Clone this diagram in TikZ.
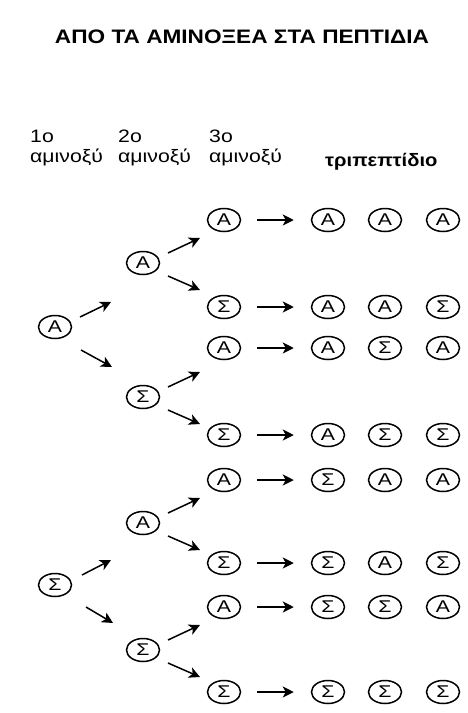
\documentclass[tikz,border=0pt]{standalone}
\usepackage{fontspec}
\setmainfont{Liberation Sans}
\usetikzlibrary{arrows.meta,shapes.geometric}
\newcommand{\wide}[2]{\scalebox{#1}[1]{#2}}
\tikzset{
  aa/.style={draw, line width=1.5pt, ellipse, minimum width=33pt, minimum height=23pt, inner sep=0pt, font=\fontsize{17}{17}\selectfont},
  arr/.style={line width=1.5pt, -{Stealth[length=11pt,width=11pt,inset=3pt]}},
  hdr/.style={align=left, anchor=north west, font=\fontsize{18}{20}\selectfont, inner sep=0pt},
}
\begin{document}
\begin{tikzpicture}[x=1pt,y=-1pt]
\useasboundingbox (0,0) rectangle (468,713);
% title
\node[font=\bfseries\fontsize{19.5}{19.5}\selectfont, anchor=base, inner sep=0pt] (title) at (242,43) {\wide{1.16}{ΑΠΟ ΤΑ ΑΜΙΝΟΞΕΑ ΣΤΑ ΠΕΠΤΙΔΙΑ}};
% headers
\node[hdr] (h1) at (30,130) {\wide{1.18}{1ο}\\\wide{1.18}{αμινοξύ}};
\node[hdr] (h2) at (118,130) {\wide{1.18}{2ο}\\\wide{1.18}{αμινοξύ}};
\node[hdr] (h3) at (209,130) {\wide{1.18}{3ο}\\\wide{1.18}{αμινοξύ}};
\node[font=\bfseries\fontsize{18}{18}\selectfont, anchor=base west, inner sep=0pt] (h4) at (325,166) {\wide{1.12}{τριπεπτίδιο}};
% level 1
\node[aa] (a1) at (55,327) {\wide{1.25}{Α}};
\node[aa] (s1) at (55,585) {\wide{1.25}{Σ}};
% level 2
\node[aa] (aa2) at (143,263) {\wide{1.25}{Α}};
\node[aa] (as2) at (143,397) {\wide{1.25}{Σ}};
\node[aa] (sa2) at (143,523) {\wide{1.25}{Α}};
\node[aa] (ss2) at (143,650) {\wide{1.25}{Σ}};
% level 3 and results
\foreach \n/\y/\t/\p/\q/\r in {
  r1/220/Α/Α/Α/Α, r2/307/Σ/Α/Α/Σ, r3/348/Α/Α/Σ/Α, r4/435/Σ/Α/Σ/Σ,
  r5/480/Α/Σ/Α/Α, r6/563/Σ/Σ/Α/Σ, r7/607/Α/Σ/Σ/Α, r8/692/Σ/Σ/Σ/Σ}{
  \node[aa] (\n) at (224,\y) {\wide{1.25}{\t}};
  \node[aa] (\n p) at (328,\y) {\wide{1.25}{\p}};
  \node[aa] (\n q) at (385,\y) {\wide{1.25}{\q}};
  \node[aa] (\n r) at (443,\y) {\wide{1.25}{\r}};
  \draw[arr] ([xshift=16pt]\n.east) -- ([xshift=-17pt]\n p.west);
}
% level 1 -> 2 arrows
\draw[arr] ([shift={(25,-10)}]a1.center) -- ++(31,-15);
\draw[arr] ([shift={(26,23)}]a1.center) -- ++(31,17);
\draw[arr] ([shift={(27,-10)}]s1.center) -- ++(29,-15);
\draw[arr] ([shift={(31,22)}]s1.center) -- ++(27,16);
% level 2 -> 3 arrows
\foreach \n in {aa2,as2,sa2,ss2}{
  \draw[arr] ([shift={(25,-10)}]\n.center) -- ++(32,-15);
  \draw[arr] ([shift={(25,13)}]\n.center) -- ++(32,14);
}
\end{tikzpicture}
\end{document}
